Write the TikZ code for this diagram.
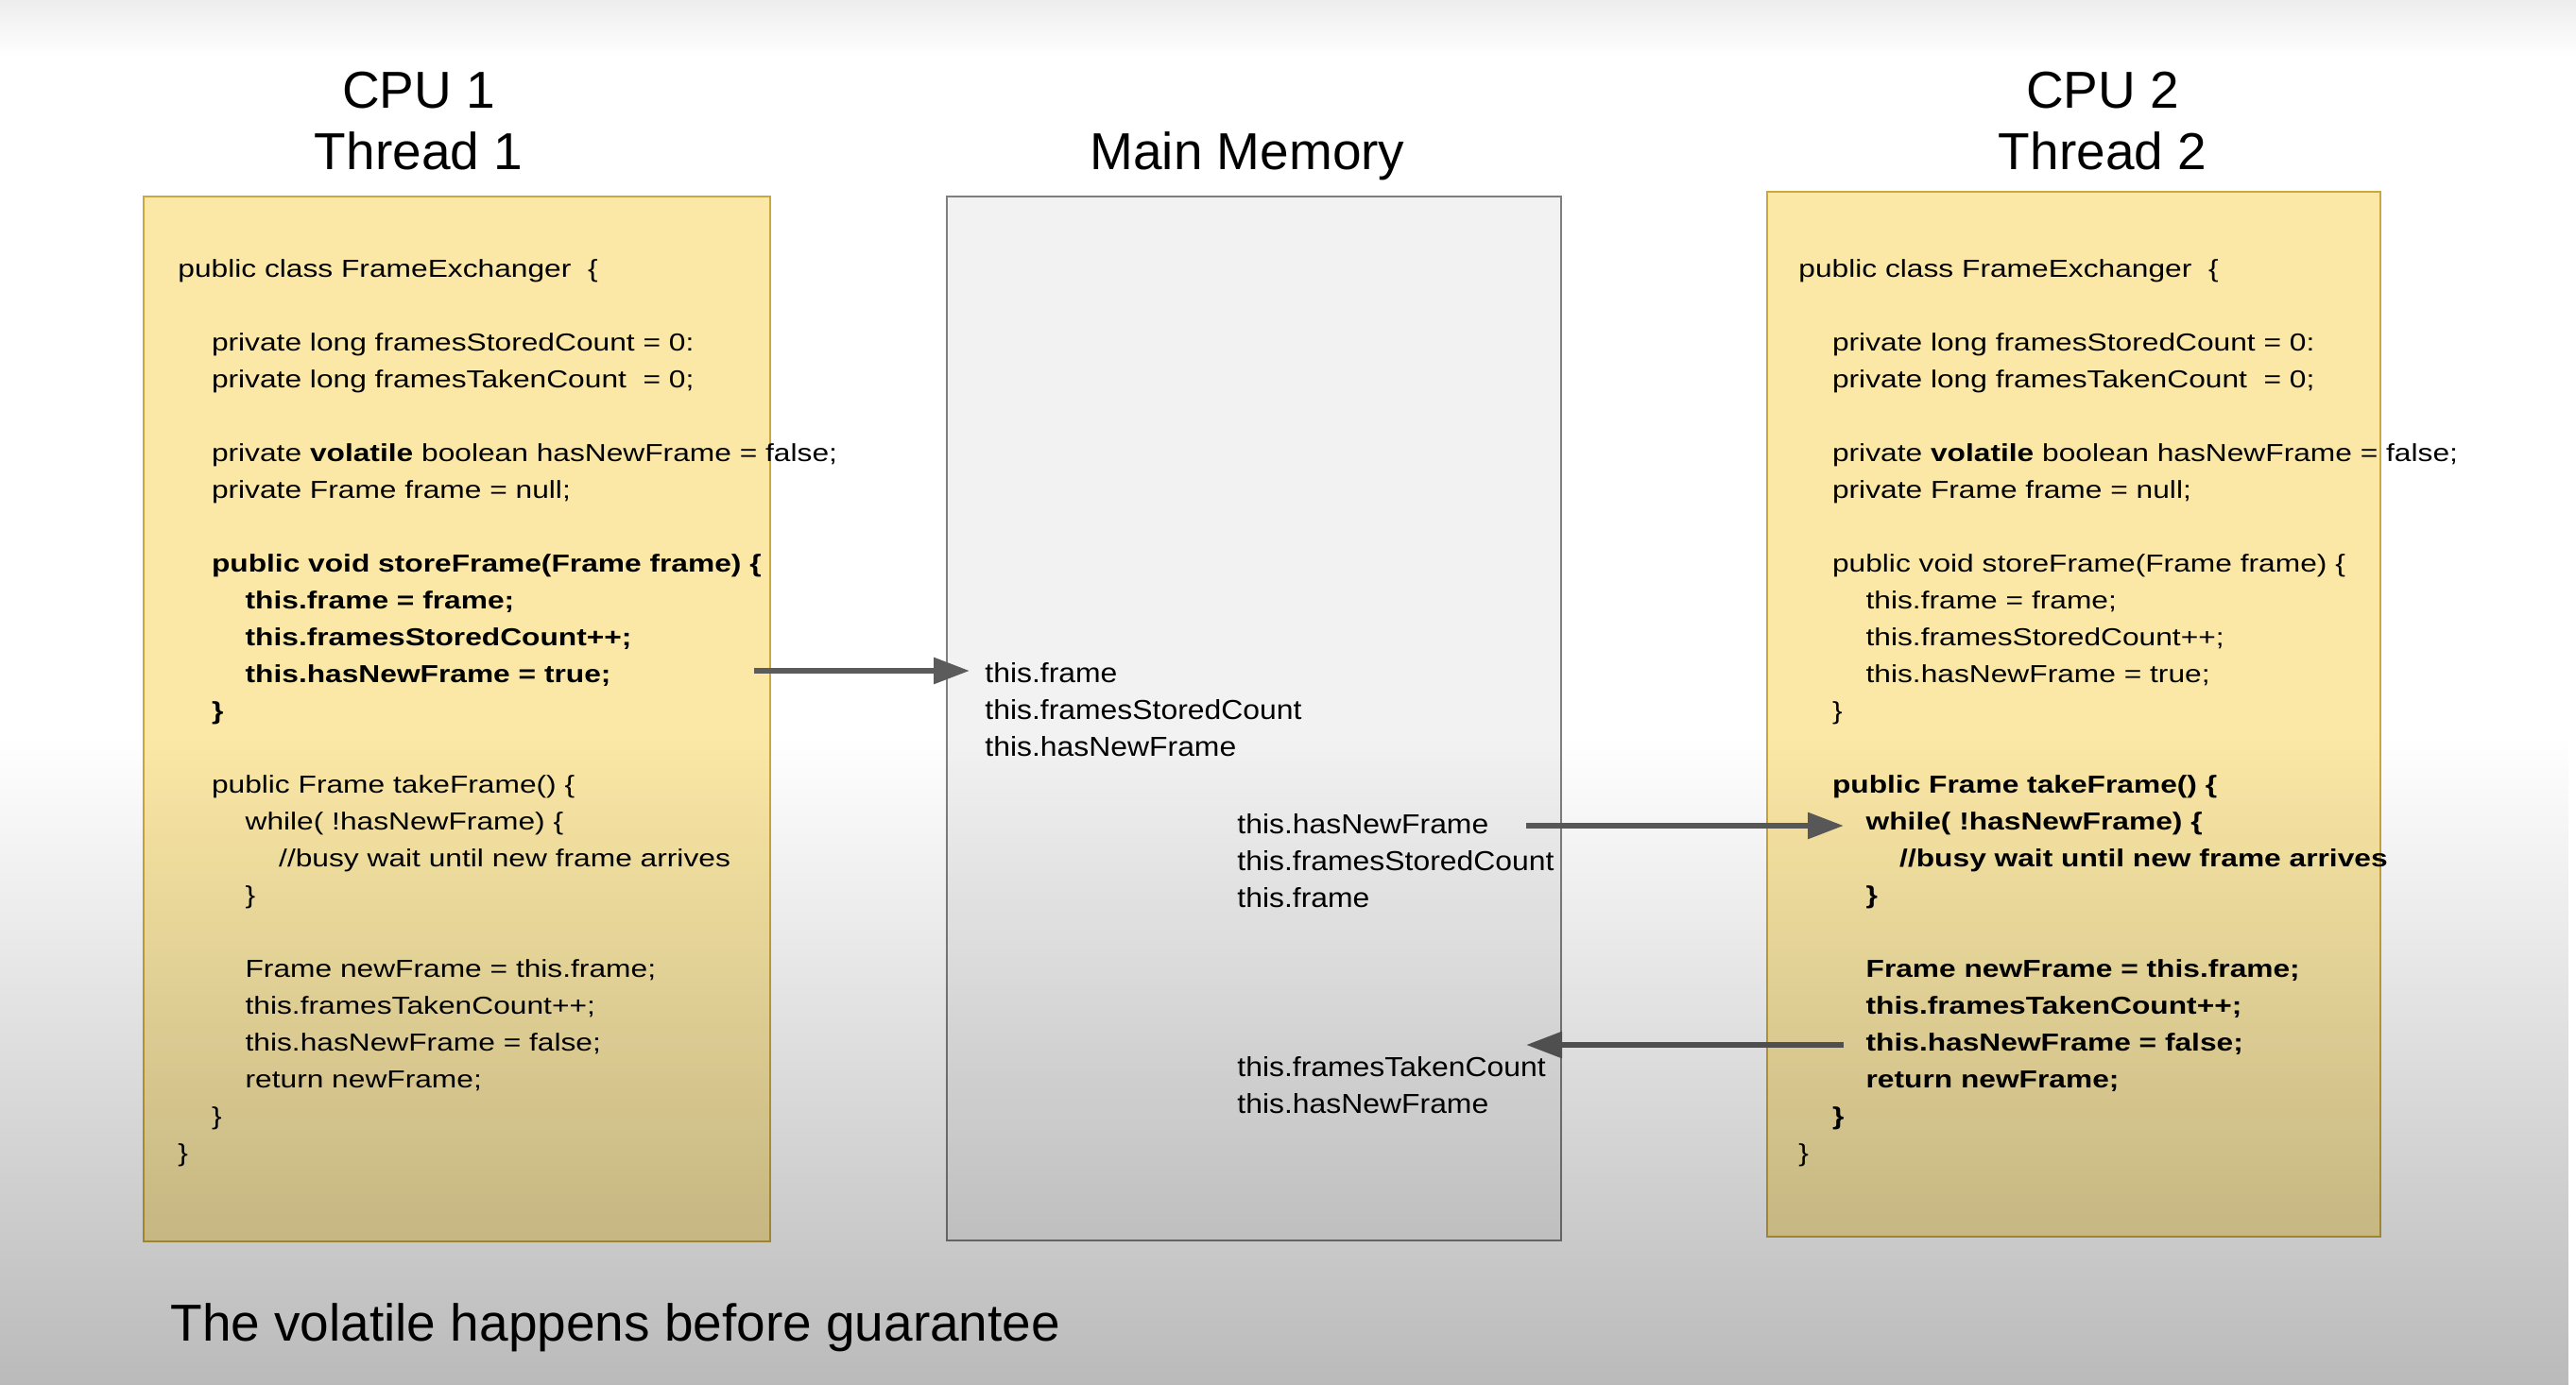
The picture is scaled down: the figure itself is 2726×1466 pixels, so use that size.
\documentclass[tikz,border=0pt]{standalone}
\usepackage{fontspec}
\setmainfont{Liberation Sans}
\newfontfamily\codefont[FakeStretch=1.22]{Liberation Sans}
\newfontfamily\memfont[FakeStretch=1.1]{Liberation Sans}
\usetikzlibrary{arrows.meta,positioning,fadings}

\definecolor{slideyellow}{HTML}{FBE8A6}
\definecolor{slidegold}{HTML}{C9A83E}
\definecolor{memgray}{HTML}{F2F2F2}
\definecolor{memborder}{HTML}{7F7F7F}
\definecolor{wiregray}{HTML}{5B5B5B}

\newcommand{\tb}{\hspace*{17.8pt}}
\newcommand{\keep}[1]{#1}
% #1 = look of storeFrame, #2 = look of takeFrame
\newcommand{\exchanger}[2]{public class FrameExchanger\ \ \{\\[19.5pt]
\tb private long framesStoredCount = 0:\\
\tb private long framesTakenCount\ \ = 0;\\[19.5pt]
\tb private \textbf{volatile} boolean hasNewFrame = false;\\
\tb private Frame frame = null;\\[19.5pt]
\tb #1{public void storeFrame(Frame frame) \{}\\
\tb\tb #1{this.frame = frame;}\\
\tb\tb #1{this.framesStoredCount++;}\\
\tb\tb #1{this.hasNewFrame = true;}\\
\tb #1{\}}\\[19.5pt]
\tb #2{public Frame takeFrame() \{}\\
\tb\tb #2{while( !hasNewFrame) \{}\\
\tb\tb\tb #2{//busy wait until new frame arrives}\\
\tb\tb #2{\}}\\[19.5pt]
\tb\tb #2{Frame newFrame = this.frame;}\\
\tb\tb #2{this.framesTakenCount++;}\\
\tb\tb #2{this.hasNewFrame = false;}\\
\tb\tb #2{return newFrame;}\\
\tb #2{\}}\\
\}}

\begin{document}
\begin{tikzpicture}[x=0.5pt,y=-0.5pt,
    codebox/.style={draw=slidegold,line width=1.2pt,fill=slideyellow,anchor=north west,inner sep=0,minimum height=553pt},
    membox/.style={draw=memborder,line width=1pt,fill=memgray,anchor=north west,inner sep=0,minimum height=552.5pt},
    code/.style={font=\codefont\fontsize{13pt}{19.5pt}\selectfont,align=left,anchor=base west,inner sep=0},
    memtext/.style={font=\memfont\fontsize{14.5pt}{19.5pt}\selectfont,align=left,anchor=base west,inner sep=0},
    heading/.style={font=\fontsize{27.5pt}{32.5pt}\selectfont,align=center,anchor=base},
    wire/.style={draw=wiregray,line width=3pt,-{Triangle[length=19pt,width=13.5pt]}}]
    \useasboundingbox (0,0) rectangle (2726,1466);
    % slide background
    \fill[white] (0,0) rectangle (2726,1466);
    \shade[top color=black!7,bottom color=white] (0,0) rectangle (2726,60);

    \node[codebox,minimum width=331.5pt] (cpuone) at (151,207) {};
    \node[membox,minimum width=325pt] (mem) at (1001,207) {};
    \node[codebox,minimum width=324.5pt] (cputwo) at (1869,202) {};

    % multi-line nodes sit on their last line
    \node[heading] (hone) at (443,180) {CPU 1\\Thread 1};
    \node[heading] (hmem) at (1320,180) {Main Memory};
    \node[heading] (htwo) at (2225,180) {CPU 2\\Thread 2};

    \node[code] (codeone) at (188,1229) {\exchanger{\textbf}{\keep}};
    \node[code] (codetwo) at (1903,1229) {\exchanger{\keep}{\textbf}};

    \node[memtext] (mema) at (1042,800) {this.frame\\this.framesStoredCount\\this.hasNewFrame};
    \node[memtext] (memb) at (1309,960) {this.hasNewFrame\\this.framesStoredCount\\this.frame};
    \node[memtext] (memc) at (1309,1178) {this.framesTakenCount\\this.hasNewFrame};

    \coordinate (wa) at (798,710);
    \coordinate (wb) at (1615,874);
    \coordinate (wbend) at (1951,874);
    \coordinate (wc) at (1951,1106);
    \coordinate (wcend) at (1615,1106);
    \draw[wire,shorten >=8pt] (wa) -- (wa -| mema.west);
    \draw[wire] (wb) -- (wbend);
    \draw[wire] (wc) -- (wcend);

    \node[font=\fontsize{27.5pt}{33pt}\selectfont,anchor=base west,inner sep=0] (note) at (180,1419) {The volatile happens before guarantee};

    % darker lower part of the slide
    \fill[black,opacity=0.27,path fading=north] (0,780) rectangle (2726,1466);
\end{tikzpicture}
\end{document}
